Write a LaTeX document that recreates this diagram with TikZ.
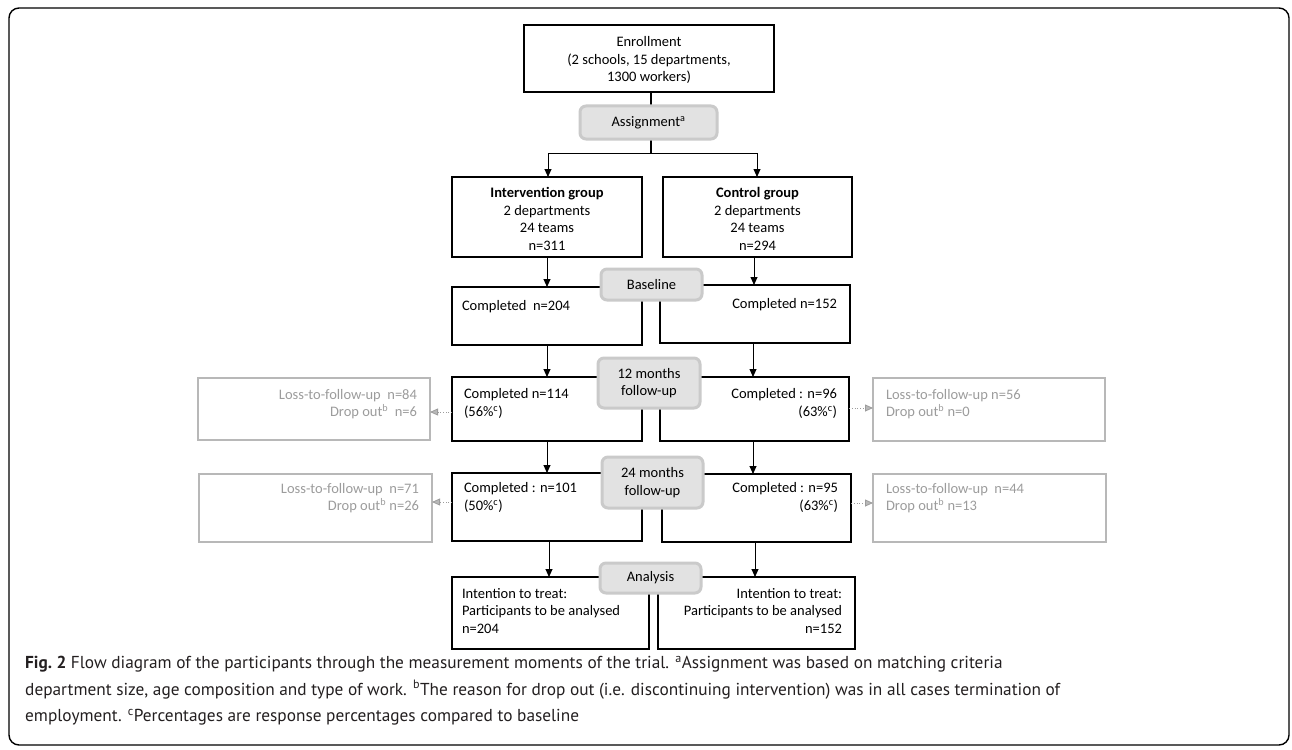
\documentclass[tikz,border=0pt]{standalone}
\usepackage{fontspec}
\setmainfont{Carlito}
\newfontfamily\capfont{PT Sans}
\usetikzlibrary{arrows.meta,calc}
\definecolor{stagefill}{HTML}{E2E2E2}
\definecolor{stagedraw}{HTML}{CACACA}
\definecolor{lossdraw}{HTML}{B8B8B8}
\definecolor{losstext}{HTML}{9C9C9C}
\definecolor{captext}{HTML}{231F20}
\tikzset{
  frame/.style={draw=black, line width=1.4pt, rounded corners=10pt},
  box/.style={draw=black, fill=white, line width=1.2pt, inner sep=0pt, outer sep=0pt},
  lossbox/.style={draw=lossdraw, fill=white, line width=1.2pt, inner sep=0pt, outer sep=0pt},
  stage/.style={draw=stagedraw, fill=stagefill, line width=3pt, rounded corners=6pt, inner sep=0pt, outer sep=0pt, font=\fontsize{14.5}{17.4}\selectfont, align=center},
  txt/.style={inner sep=0pt, outer sep=0pt, font=\fontsize{14.5}{17.4}\selectfont},
  losstxt/.style={txt, text=losstext},
  arr/.style={draw=black, line width=0.9pt, -{Triangle[length=8pt,width=7pt]}},
  thick line/.style={draw=black, line width=2pt},
  dotarr/.style={draw=losstext, line width=0.8pt, dotted, -{Triangle[length=8pt,width=7pt,fill=lossdraw]}},
}
\begin{document}
\begin{tikzpicture}[x=1pt,y=-1pt]
\useasboundingbox (0,0) rectangle (1292,749);
\draw[frame] (9,8) rectangle (1289,745);

% main boxes
\node[box, minimum width=250pt, minimum height=67pt] (enroll) at (649,58.5) {};
\node[box, minimum width=190pt, minimum height=80pt] (intg) at (547,217) {};
\node[box, minimum width=189pt, minimum height=80pt] (ctrlg) at (757.5,217) {};
\node[box, minimum width=190pt, minimum height=58pt] (basel) at (547,316) {};
\node[box, minimum width=190pt, minimum height=58pt] (baser) at (755,314) {};
\node[box, minimum width=190pt, minimum height=64pt] (m12l) at (547,409) {};
\node[box, minimum width=189pt, minimum height=64pt] (m12r) at (754.5,409) {};
\node[box, minimum width=190pt, minimum height=68pt] (m24l) at (547,507) {};
\node[box, minimum width=189pt, minimum height=68pt] (m24r) at (756.5,508) {};
\node[box, minimum width=197pt, minimum height=72pt] (anl) at (550.5,613) {};
\node[box, minimum width=197pt, minimum height=72pt] (anr) at (756.5,613) {};

% loss boxes
\node[lossbox, minimum width=232pt, minimum height=62pt] (g12l) at (314,409) {};
\node[lossbox, minimum width=232pt, minimum height=63pt] (g12r) at (989,409.5) {};
\node[lossbox, minimum width=233pt, minimum height=68pt] (g24l) at (315.5,508) {};
\node[lossbox, minimum width=233pt, minimum height=68pt] (g24r) at (989.5,508) {};

% texts in boxes
\node[txt, align=center] (tenroll) at (649,60) {Enrollment\\(2 schools, 15 departments,\\1300 workers)};
\node[txt, align=center] (tintg) at (547,219) {\textbf{Intervention group}\\2 departments\\24 teams\\n=311};
\node[txt, align=center] (tctrlg) at (757.5,219) {\textbf{Control group}\\2 departments\\24 teams\\n=294};
\node[txt, anchor=west] (tbasel) at (462,307) {Completed\ \ n=204};
\node[txt, anchor=east] (tbaser) at (837,305) {Completed n=152};
\node[txt, anchor=west, align=left] (tm12l) at (464,403.5) {Completed n=114\\(56\%\textsuperscript{c})};
\node[txt, anchor=east, align=right] (tm12r) at (837,403.5) {Completed : n=96\\(63\%\textsuperscript{c})};
\node[txt, anchor=west, align=left] (tm24l) at (464,497.5) {Completed : n=101\\(50\%\textsuperscript{c})};
\node[txt, anchor=east, align=right] (tm24r) at (838,497.5) {Completed : n=95\\(63\%\textsuperscript{c})};
\node[txt, anchor=west, align=left] (tanl) at (462,611) {Intention to treat:\\Participants to be analysed\\n=204};
\node[txt, anchor=east, align=right] (tanr) at (842,611) {Intention to treat:\\Participants to be analysed\\n=152};

\node[losstxt, anchor=east, align=right] (tg12l) at (417,404) {Loss-to-follow-up\ \ n=84\\Drop out\textsuperscript{b}\ \ n=6};
\node[losstxt, anchor=west, align=left] (tg12r) at (886,404) {Loss-to-follow-up n=56\\Drop out\textsuperscript{b} n=0};
\node[losstxt, anchor=east, align=right] (tg24l) at (419,498) {Loss-to-follow-up\ \ n=71\\Drop out\textsuperscript{b} n=26};
\node[losstxt, anchor=west, align=left] (tg24r) at (886,498) {Loss-to-follow-up\ \ n=44\\Drop out\textsuperscript{b} n=13};

% connectors
\coordinate (split) at (651,153);
\draw[thick line] (enroll.south -| split) -- (split);
\draw[line width=0.9pt] (548,153) -- (757,153);
\coordinate (jl) at (548,153);
\coordinate (jr) at (757,153);
\draw[arr] (jl) -- (jl |- intg.north);
\draw[arr] (jr) -- (jr |- ctrlg.north);
\draw[arr] (intg.south) -- (basel.north);
\draw[arr] (ctrlg.south -| 754,0) -- (754,285);
\draw[arr] (basel.south) -- (m12l.north);
\draw[arr] (baser.south -| 753,0) -- (753,377);
\draw[arr] (m12l.south) -- (m24l.north);
\draw[arr] (m12r.south -| 753,0) -- (753,474);
\draw[arr] (m24l.south -| 549,0) -- (549,577);
\draw[arr] (m24r.south -| 755,0) -- (755,577);

\draw[dotarr] (m12l.west |- 0,412) -- (g12l.east |- 0,412);
\draw[dotarr] (m24l.west |- 0,502) -- (g24l.east |- 0,502);
\draw[dotarr] (m12r.east |- 0,408) -- (g12r.west |- 0,408);
\draw[dotarr] (m24r.east |- 0,503) -- (g24r.west |- 0,503);

% stage boxes
\node[stage, minimum width=137pt, minimum height=33pt] (assign) at (648.5,122.5) {Assignment\textsuperscript{a}};
\node[stage, minimum width=101pt, minimum height=31pt] (baseline) at (651.5,284.5) {Baseline};
\node[stage, minimum width=102pt, minimum height=50pt] (s12) at (649,383) {12 months\\follow-up};
\node[stage, minimum width=101pt, minimum height=51pt] (s24) at (652.5,482.5) {24 months\\follow-up};
\node[stage, minimum width=101pt, minimum height=30pt] (analysis) at (650.5,578) {Analysis};

% caption
\node[anchor=north west, inner sep=0pt, align=left, text=captext, font=\capfont\fontsize{17.3}{26.5}\selectfont] (cap) at (25,656) {\textbf{Fig.\ 2} Flow diagram of the participants through the measurement moments of the trial. \textsuperscript{a}Assignment was based on matching criteria\\department size, age composition and type of work. \textsuperscript{b}The reason for drop out (i.e. discontinuing intervention) was in all cases termination of\\employment. \textsuperscript{c}Percentages are response percentages compared to baseline};
\end{tikzpicture}
\end{document}
